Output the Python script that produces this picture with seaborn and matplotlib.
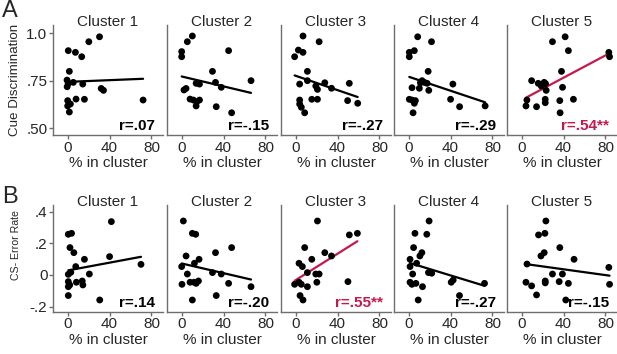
import numpy as np
import pandas as pd
import matplotlib
matplotlib.use("Agg")
import matplotlib.pyplot as plt
import seaborn as sns

# values
clusters = ['Cluster 1', 'Cluster 2', 'Cluster 3', 'Cluster 4', 'Cluster 5']

# Row A: cue discrimination vs % in cluster
a_x = [
    [30.4, 20.2, 0.6, 7.4, 13.4, 1.6, -0.6, 5.4, -0.5, 14.4, 32, 34.2, 72, 0, 8, 16, 0, 2.6, 1.6, 0.5],
    [10.2, 5.4, 0, 0, 44.8, 29.4, 32.3, 13.8, 17, 37.8, 66.2, 2.2, 4.2, 8, 11.2, 14.4, 17, 13.8, 33, 47.7],
    [7, 22.4, 2.6, 7, -1, 11.2, 11.2, 3.8, 19.2, 20.8, 27.8, 34.2, 51.2, 3.8, 3.8, 5.4, 8.6, 15.4, 20.8, 49.6, 59.2],
    [8.6, 21.8, 5.4, 0.6, 0.6, 18.6, 12.8, 15, 17.6, 11.2, 3.2, 10.2, 19.2, 42.2, 0.6, 3.2, 6.4, 5.4, 4.2, 40, 48.6, 73],
    [41.5, 29.4, 44.6, 83.2, 83.9, 38, 9.5, 15.8, 21.5, 18.7, 22.8, 23.4, 39, 5, 4.1, 14.2, 22.5, 22.5, 36.4, 49.4, 36.7],
]
a_y = [
    [0.982, 0.956, 0.909, 0.90, 0.877, 0.80, 0.754, 0.742, 0.719, 0.733, 0.71, 0.70, 0.649, 0.646, 0.654, 0.653, 0.618, 0.628, 0.586, 0.735],
    [0.986, 0.956, 0.904, 0.877, 0.909, 0.80, 0.742, 0.737, 0.733, 0.716, 0.751, 0.702, 0.71, 0.654, 0.649, 0.64, 0.649, 0.618, 0.614, 0.582],
    [0.986, 0.956, 0.912, 0.90, 0.877, 0.80, 0.751, 0.733, 0.723, 0.705, 0.74, 0.711, 0.737, 0.649, 0.628, 0.611, 0.582, 0.653, 0.653, 0.646, 0.632],
    [0.982, 0.956, 0.909, 0.90, 0.877, 0.80, 0.751, 0.742, 0.737, 0.74, 0.714, 0.711, 0.70, 0.733, 0.653, 0.649, 0.646, 0.632, 0.582, 0.653, 0.614, 0.618],
    [0.982, 0.956, 0.909, 0.90, 0.877, 0.80, 0.751, 0.737, 0.742, 0.723, 0.735, 0.70, 0.716, 0.649, 0.618, 0.614, 0.653, 0.635, 0.646, 0.653, 0.582],
]
a_r = ['r=.07', 'r=-.15', 'r=-.27', 'r=-.29', 'r=.54**']
a_sig = [False, False, False, False, True]

# Row B: CS- error rate vs % in cluster
b_x = [
    [41.7, 3.7, 0.6, 2.2, 5.9, 40, 16, 7.7, 20.7, 70, 0.6, 3, 0.6, 2, 8.3, 13.9, 14.5, 0.6, 0.6, 30.6],
    [1.6, 10.2, 13.4, 47.7, 32.3, 4.2, 16.6, 12.2, 0, 5.4, 29.4, 37.8, 66.2, 0.3, 8, 11.8, 16, 13.8, 44.8, 33, 10.2],
    [20.8, 51.2, 58.9, 8.6, 27.8, 34.2, 15.4, 3.2, 6.4, 11.2, 19.2, 22.4, -1, 3.2, 5.4, 20.2, 49.9, 11.2, 4.2, 7],
    [19.5, 6, 17.3, 4.7, 12.6, 10.7, 1.3, 7.6, 1.3, 3.8, 18.9, 22, 42.5, 40.6, 1.3, 3.1, 6.9, 13.2, 48.5, 9.1, 72.4],
    [23.1, 16.1, 22.2, 36.4, 21.5, 18.4, 50, 5.1, 29.4, 38.9, 83.2, 4.1, 9.5, 22.5, 22.5, 35.8, 44.6, 83.9, 14.2, 42.1],
]
b_y = [
    [0.337, 0.263, 0.257, 0.173, 0.141, 0.116, 0.099, 0.053, 0.006, 0.067, 0.004, 0.017, -0.042, -0.063, -0.046, -0.038, -0.063, -0.074, -0.13, -0.158],
    [0.341, 0.263, 0.257, 0.173, 0.141, 0.12, 0.099, 0.074, 0.053, 0.006, 0.015, 0.006, -0.074, -0.059, -0.046, -0.046, -0.038, -0.053, -0.053, -0.13, -0.158],
    [0.341, 0.253, 0.263, 0.173, 0.141, 0.12, 0.099, 0.074, 0.053, 0.015, 0.006, 0.006, -0.059, -0.046, -0.059, -0.046, -0.042, -0.074, -0.13, -0.158],
    [0.341, 0.263, 0.257, 0.173, 0.141, 0.12, 0.099, 0.074, 0.053, 0.006, 0.015, 0.011, -0.032, -0.046, -0.046, -0.059, -0.053, -0.074, -0.13, -0.158, -0.053],
    [0.341, 0.253, 0.263, 0.173, 0.141, 0.12, 0.099, 0.069, 0.006, 0.006, 0.048, -0.046, -0.069, -0.038, -0.05, -0.042, -0.053, -0.059, -0.126, -0.158],
]
b_r = ['r=.14', 'r=-.20', 'r=.55**', 'r=-.27', 'r=-.15']
b_sig = [False, False, True, False, False]

x_ticks = [0, 40, 80]
a_yticks = [0.5, 0.75, 1.0]
a_yticklabels = ['.50', '.75', '1.0']
b_yticks = [-0.2, 0, 0.2, 0.4]
b_yticklabels = ['-.2', '0', '.2', '.4']

RED = '#C4194C'
SPINE = '#6e6e6e'

sns.set_style('ticks')
plt.rcParams['font.family'] = ['Liberation Sans', 'DejaVu Sans']

W, H = 617, 354
fig = plt.figure(figsize=(W / 100, H / 100), dpi=100)

lefts = [53, 167, 281, 394, 507]
panel_w = 110
rows = [
    dict(top=25, bottom=135, xs=a_x, ys=a_y, r=a_r, sig=a_sig, ylim=(0.465, 1.044),
         yt=a_yticks, ytl=a_yticklabels, ylabel='Cue Discrimination', ylab_y=0.50,
         ylab_size=9.6, letter='A', letter_y=0),
    dict(top=205, bottom=311.7, xs=b_x, ys=b_y, r=b_r, sig=b_sig, ylim=(-0.232, 0.442),
         yt=b_yticks, ytl=b_yticklabels, ylabel='CS- Error Rate', ylab_y=0.62,
         ylab_size=7.6, letter='B', letter_y=186),
]

for row in rows:
    h = row['bottom'] - row['top']
    for i in range(5):
        ax = fig.add_axes([lefts[i] / W, 1 - row['bottom'] / H, panel_w / W, h / H])
        df = pd.DataFrame({'x': row['xs'][i], 'y': row['ys'][i]})
        col = RED if row['sig'][i] else 'black'
        sns.scatterplot(data=df, x='x', y='y', ax=ax, color='black', s=24,
                        edgecolor='none', linewidth=0, zorder=3)
        sns.regplot(data=df, x='x', y='y', ax=ax, scatter=False, ci=None,
                    color=col, line_kws={'linewidth': 1.6, 'zorder': 2})
        ax.set_xlim(-14, 91)
        ax.set_ylim(*row['ylim'])
        ax.set_xticks(x_ticks)
        ax.set_xticklabels([str(t) for t in x_ticks], fontsize=11)
        ax.set_xlabel('% in cluster', fontsize=11, labelpad=1)
        ax.set_title(clusters[i], fontsize=11, pad=0, y=0.99)
        sns.despine(ax=ax)
        for s in ['left', 'bottom']:
            ax.spines[s].set_color(SPINE)
            ax.spines[s].set_linewidth(1.0)
        ax.tick_params(axis='x', length=3, width=1, color=SPINE, pad=1)
        ax.set_yticks(row['yt'])
        if i == 0:
            ax.set_yticklabels(row['ytl'], fontsize=11)
            ax.tick_params(axis='y', length=3, width=1, color=SPINE, pad=1)
            ax.set_ylabel(row['ylabel'], fontsize=row['ylab_size'])
            ax.yaxis.set_label_coords(-0.29, row['ylab_y'])
        else:
            ax.set_yticklabels([])
            ax.tick_params(axis='y', length=0)
            ax.set_ylabel('')
        ax.text(0.93, 0.02, row['r'][i], transform=ax.transAxes, ha='right',
                va='bottom', fontsize=11, fontweight='bold', color=col)
    fig.text(2 / W, 1 - row['letter_y'] / H, row['letter'], fontsize=17,
             ha='left', va='top')

fig.savefig('out.png', dpi=100)
